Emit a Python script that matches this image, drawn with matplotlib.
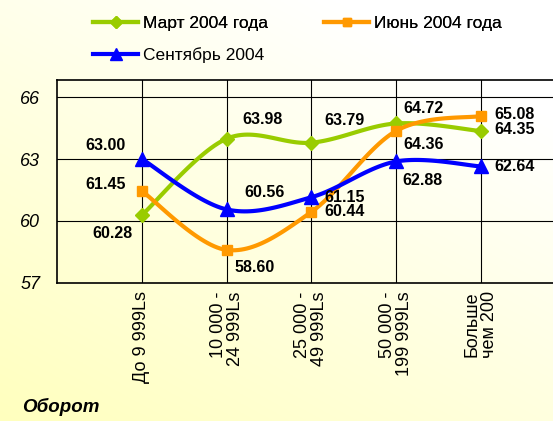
import numpy as np
import matplotlib as mpl
import matplotlib.pyplot as plt

categories = ['До 9 999Ls', '10 000 -\n24 999Ls', '25 000 -\n49 999Ls',
              '50 000 -\n199 999Ls', 'Больше\nчем 200']
march = [60.28, 63.98, 63.79, 64.72, 64.35]
june = [61.45, 58.60, 60.44, 64.36, 65.08]
sept = [63.00, 60.56, 61.15, 62.88, 62.64]
yticks = [57, 60, 63, 66]


def smooth(x, y, n=30):
  # excel-like smoothing: bezier segments with catmull-rom tangents
  x = np.asarray(x, float)
  y = np.asarray(y, float)
  px = np.concatenate([[x[0]], x, [x[-1]]])
  py = np.concatenate([[y[0]], y, [y[-1]]])
  xs, ys = [], []
  t = np.linspace(0, 1, n)
  for i in range(1, len(px) - 2):
    p0 = np.array([px[i], py[i]])
    p3 = np.array([px[i + 1], py[i + 1]])
    p1 = p0 + (np.array([px[i + 1], py[i + 1]]) - np.array([px[i - 1], py[i - 1]])) / 6.
    p2 = p3 - (np.array([px[i + 2], py[i + 2]]) - np.array([px[i], py[i]])) / 6.
    b = ((1 - t) ** 3)[:, None] * p0 + (3 * (1 - t) ** 2 * t)[:, None] * p1 \
        + (3 * (1 - t) * t ** 2)[:, None] * p2 + (t ** 3)[:, None] * p3
    xs.append(b[:, 0])
    ys.append(b[:, 1])
  return np.concatenate(xs), np.concatenate(ys)


plt.rcParams['font.family'] = ['Liberation Sans', 'DejaVu Sans']

fig = plt.figure(figsize=(5.53, 4.21), dpi=100)

# background gradient (light yellow bottom-left -> white top-right)
bg = fig.add_axes([0, 0, 1, 1], zorder=-10)
gx, gy = np.meshgrid(np.linspace(0, 1, 200), np.linspace(0, 1, 200))
g = np.clip(0.5 * gx + 0.7 * gy, 0, 1)
c0 = np.array([255, 255, 190]) / 255.
c1 = np.array([255, 255, 255]) / 255.
img = c0[None, None, :] * (1 - g[..., None]) + c1[None, None, :] * g[..., None]
bg.imshow(img, origin='lower', extent=[0, 1, 0, 1], aspect='auto')
bg.axis('off')

ax = fig.add_axes([57 / 553., 1 - 283 / 421., 1 - 57 / 553., (283 - 80) / 421.])
ax.patch.set_alpha(0)
x = np.arange(len(categories))

series = [
  (march, '#99CC00', 'D', 7, 'Март 2004 года'),
  (june, '#FF9900', 's', 7, 'Июнь 2004 года'),
  (sept, '#0000FF', '^', 10, 'Сентябрь 2004'),
]
handles = []
for vals, col, mk, ms, lab in series:
  sx, sy = smooth(x, vals)
  ax.plot(sx, sy, color=col, lw=3, zorder=3, solid_capstyle='round')
  ax.plot(x, vals, ls='none', marker=mk, ms=ms, color=col, zorder=4)
  h, = ax.plot([], [], color=col, lw=3, marker=mk, ms=ms - 1, label=lab)
  handles.append(h)

# value labels (offsets in points)
offsets = {
  'm': [(-21, -13), (26, 14), (24, 16), (20, 11), (24, 1)],
  'j': [(-26, 5), (20, -13), (24, 0), (20, -10), (24, 1)],
  's': [(-26, 10), (27, 12), (24, 0), (19, -14), (24, 0)],
}
for key, vals in zip(['m', 'j', 's'], [march, june, sept]):
  for i, v in enumerate(vals):
    ax.annotate('%.2f' % v, (x[i], v), xytext=offsets[key][i],
                textcoords='offset points', ha='center', va='center',
                fontsize=11.5, fontweight='bold', zorder=5)

ax.set_xlim(-1, 4 + (553 - 481) / 84.75)
ax.set_ylim(57, 57 + 9 * (283 - 80) / (283 - 97))
ax.set_yticks(yticks)
ax.set_yticklabels([str(t) for t in yticks], fontstyle='italic', fontsize=13)
ax.set_xticks(x)
ax.set_xticklabels(categories, rotation=90, va='top', ha='center',
                   multialignment='right', fontsize=13, linespacing=1.0)
ax.tick_params(length=0)
ax.tick_params(axis='y', pad=12)
ax.tick_params(axis='x', pad=6)
for t in yticks[1:]:
  ax.axhline(t, color='black', lw=0.8, zorder=1)
for xi in x:
  ax.axvline(xi, color='black', lw=0.8, zorder=1)
for s in ['left', 'top', 'bottom']:
  ax.spines[s].set_linewidth(1.2)
ax.spines['right'].set_visible(False)

leg1 = fig.legend(handles=handles[:2], loc='upper left', bbox_to_anchor=(0.14, 1.0),
                  ncol=2, frameon=False, fontsize=12.5, handlelength=2.6,
                  columnspacing=3.2, handletextpad=0.3)
fig.legend(handles=handles[2:], loc='upper left', bbox_to_anchor=(0.14, 0.925),
           frameon=False, fontsize=12.5, handlelength=2.6, handletextpad=0.3)
fig.add_artist(leg1)

fig.text(22 / 553., 1 - 407 / 421., 'Оборот', fontsize=13.5, fontweight='bold',
         fontstyle='italic', va='center')

fig.savefig('out.png', dpi=100)
